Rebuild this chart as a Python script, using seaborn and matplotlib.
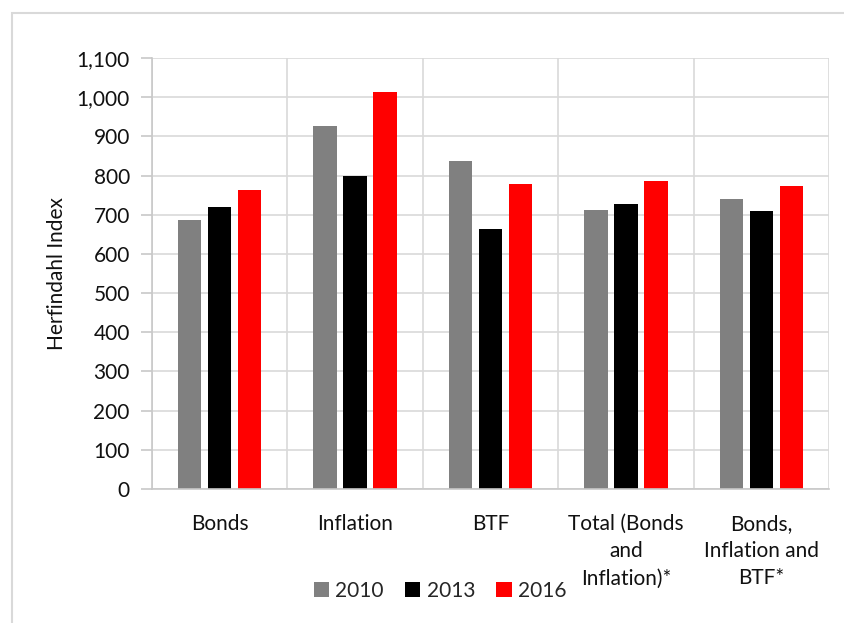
import matplotlib
matplotlib.use("Agg")
import matplotlib.pyplot as plt
import seaborn as sns
import pandas as pd
from matplotlib.ticker import FuncFormatter, MultipleLocator, FixedLocator
from matplotlib.patches import Rectangle

categories = ["Bonds", "Inflation", "BTF", "Total (Bonds\nand\nInflation)*", "Bonds,\nInflation and\nBTF*"]
years = ["2010", "2013", "2016"]
values_2010 = [686, 926, 837, 711, 739]
values_2013 = [720, 799, 664, 727, 709]
values_2016 = [763, 1012, 778, 785, 773]
colors = ["#808080", "#000000", "#ff0000"]

rows = []
for yr, vals in zip(years, [values_2010, values_2013, values_2016]):
    for c, v in zip(categories, vals):
        rows.append({"Category": c, "Year": yr, "Value": v})
df = pd.DataFrame(rows)

sns.set_theme(style="white")
plt.rcParams['font.family'] = ['Lato', 'DejaVu Sans']

FS = 15
fig = plt.figure(figsize=(8.44, 6.23), dpi=100)
W, H = 844, 623
ax = fig.add_axes([152 / W, 1 - 489 / H, (829 - 152) / W, (489 - 58) / H])

sns.barplot(data=df, x="Category", y="Value", hue="Year", palette=colors,
            order=categories, hue_order=years, width=0.665, gap=0.22,
            ax=ax, legend=True, saturation=1, linewidth=0)

ax.set_ylim(0, 1100)
ax.set_xlim(-0.5, len(categories) - 0.5)
ax.yaxis.set_major_locator(MultipleLocator(100))
ax.yaxis.set_major_formatter(FuncFormatter(lambda v, p: f"{int(v):,}"))
ax.xaxis.set_minor_locator(FixedLocator([i + 0.5 for i in range(-1, len(categories))]))
ax.grid(True, axis="y", which="major", color="#d9d9d9", linewidth=1.2)
ax.grid(True, axis="x", which="minor", color="#d9d9d9", linewidth=1.2)
ax.grid(False, axis="x", which="major")
ax.set_axisbelow(True)

for s in ["top", "right"]:
    ax.spines[s].set_visible(False)
for s in ["left", "bottom"]:
    ax.spines[s].set_color("#c8c8c8")
    ax.spines[s].set_linewidth(1.2)

ax.tick_params(axis="y", which="major", left=True, length=8, width=1.2, color="#c8c8c8",
               labelsize=FS, labelcolor="#111111", pad=8)
ax.tick_params(axis="x", which="both", bottom=False, labelsize=FS, labelcolor="#111111", pad=12)
for t in ax.get_xticklabels():
    t.set_linespacing(1.45)
ax.set_xlabel("")
ax.set_ylabel("Herfindahl Index", fontsize=FS, color="#111111", labelpad=7)

leg = ax.get_legend()
handles, labels = ax.get_legend_handles_labels()
leg.remove()
fig.legend(handles, labels, loc="center", bbox_to_anchor=(440 / W, 1 - 591 / H), ncol=3,
           frameon=False, fontsize=FS, handlelength=0.75, handleheight=0.75,
           handletextpad=0.3, columnspacing=1.0)

fig.patches.append(Rectangle((12 / W, -0.1), 1.2, 1 - 13 / H + 0.1, transform=fig.transFigure,
                             fill=False, edgecolor="#d9d9d9", linewidth=1.5, zorder=-1))

fig.savefig("out.png", dpi=100)
